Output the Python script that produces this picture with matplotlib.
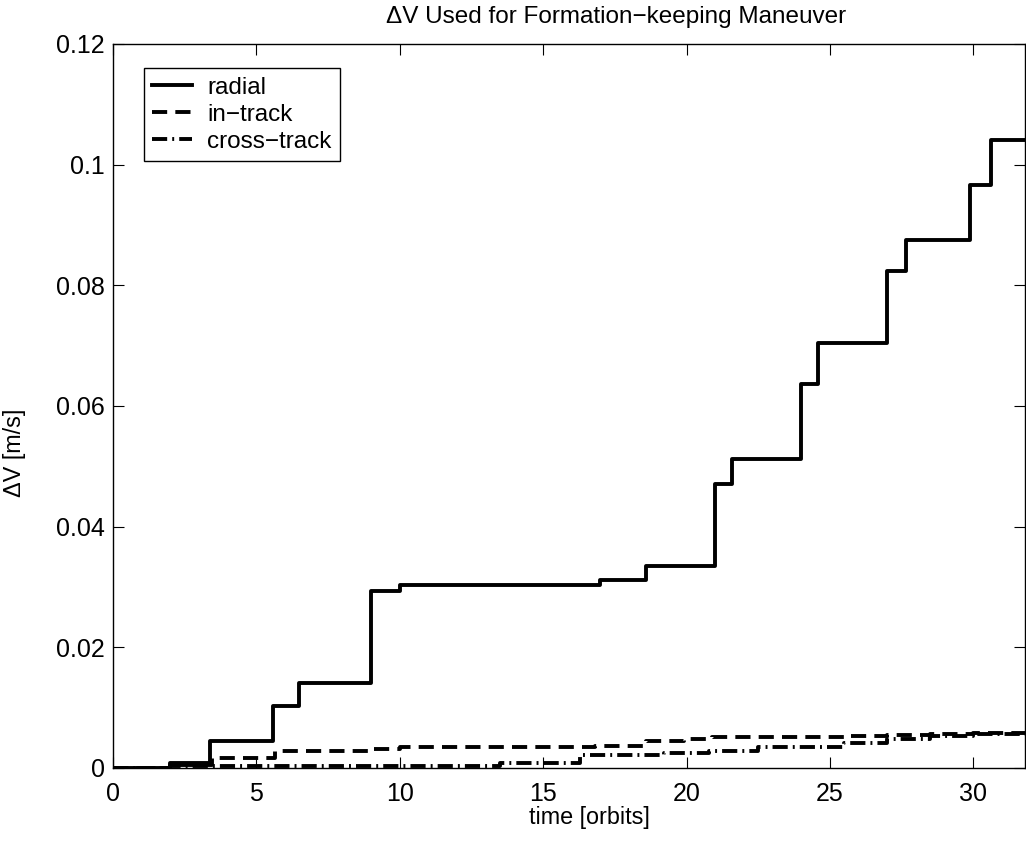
import matplotlib
matplotlib.use("Agg")
import matplotlib.pyplot as plt
from matplotlib.ticker import FixedLocator

plt.rcParams['font.family'] = ['Liberation Sans', 'DejaVu Sans']

# Data (step functions: value holds from time t[i] until t[i+1])
radial_t = [0, 2.0, 3.4, 5.6, 6.5, 9.0, 10.0, 17.0, 18.6, 21.0, 21.6, 24.0, 24.6, 27.0, 27.65, 29.9, 30.6, 31.8]
radial_v = [0, 0.0009, 0.0045, 0.0103, 0.0140, 0.0293, 0.0304, 0.0311, 0.0335, 0.0470, 0.0512,
            0.0636, 0.0705, 0.0823, 0.0875, 0.0966, 0.1041, 0.1041]

intrack_t = [0, 2.0, 3.45, 5.65, 9.05, 10.0, 16.8, 18.6, 19.9, 20.9, 25.5, 27.0, 28.5, 30.0, 31.8]
intrack_v = [0, 0.0005, 0.0017, 0.0028, 0.0031, 0.0034, 0.0036, 0.0045, 0.0048, 0.0051,
             0.0053, 0.0055, 0.0056, 0.0058, 0.0058]

cross_t = [0, 2.0, 13.5, 16.3, 19.2, 20.8, 22.5, 25.5, 27.0, 28.5, 30.0, 31.8]
cross_v = [0, 0.0003, 0.0009, 0.0021, 0.0025, 0.0028, 0.0035, 0.0042, 0.0048, 0.0053, 0.0057, 0.0057]

xticks = [0, 5, 10, 15, 20, 25, 30]
yticks = [0, 0.02, 0.04, 0.06, 0.08, 0.1, 0.12]
ytick_labels = ['0', '0.02', '0.04', '0.06', '0.08', '0.1', '0.12']

fig = plt.figure(figsize=(10.26, 8.43), dpi=100)
ax = fig.add_axes([0.110, 0.0890, 0.889, 0.8590])

ax.step(radial_t, radial_v, where='post', color='black', lw=2.8, label='radial')
ax.step(intrack_t, intrack_v, where='post', color='black', lw=2.8,
        linestyle=(0, (3.9, 2.1)), label='in\u2212track')
ax.step(cross_t, cross_v, where='post', color='black', lw=2.8,
        linestyle=(0, (3.9, 1.3, 0.5, 1.3)), label='cross\u2212track')

ax.set_xlim(0, 31.8)
ax.set_ylim(0, 0.12)
ax.xaxis.set_major_locator(FixedLocator(xticks))
ax.set_yticks(yticks)
ax.set_yticklabels(ytick_labels)
ax.tick_params(direction='in', length=8, width=0.8, labelsize=18, top=True, right=True)
ax.tick_params(axis='x', pad=10)
ax.tick_params(axis='y', pad=6)
for s in ax.spines.values():
    s.set_linewidth(1.0)

ax.text(0.523, -0.069, 'time [orbits]', transform=ax.transAxes, fontsize=16.8,
        ha='center', va='center')
ax.text(-0.1075, 0.435, '\u0394V [m/s]', transform=ax.transAxes, fontsize=16.8,
        ha='center', va='center', rotation=90)
ax.text(0.552, 1.037, '\u0394V Used for Formation\u2212keeping Maneuver', transform=ax.transAxes,
        fontsize=17.5, ha='center', va='center')

leg = ax.legend(loc='upper left', bbox_to_anchor=(0.034, 0.966), borderaxespad=0,
                fancybox=False, edgecolor='black', framealpha=1, fontsize=17.5,
                handlelength=1.65, handletextpad=0.6, labelspacing=0.2, borderpad=0.35)
leg.get_frame().set_linewidth(1.0)

fig.savefig('out.png', dpi=100)
